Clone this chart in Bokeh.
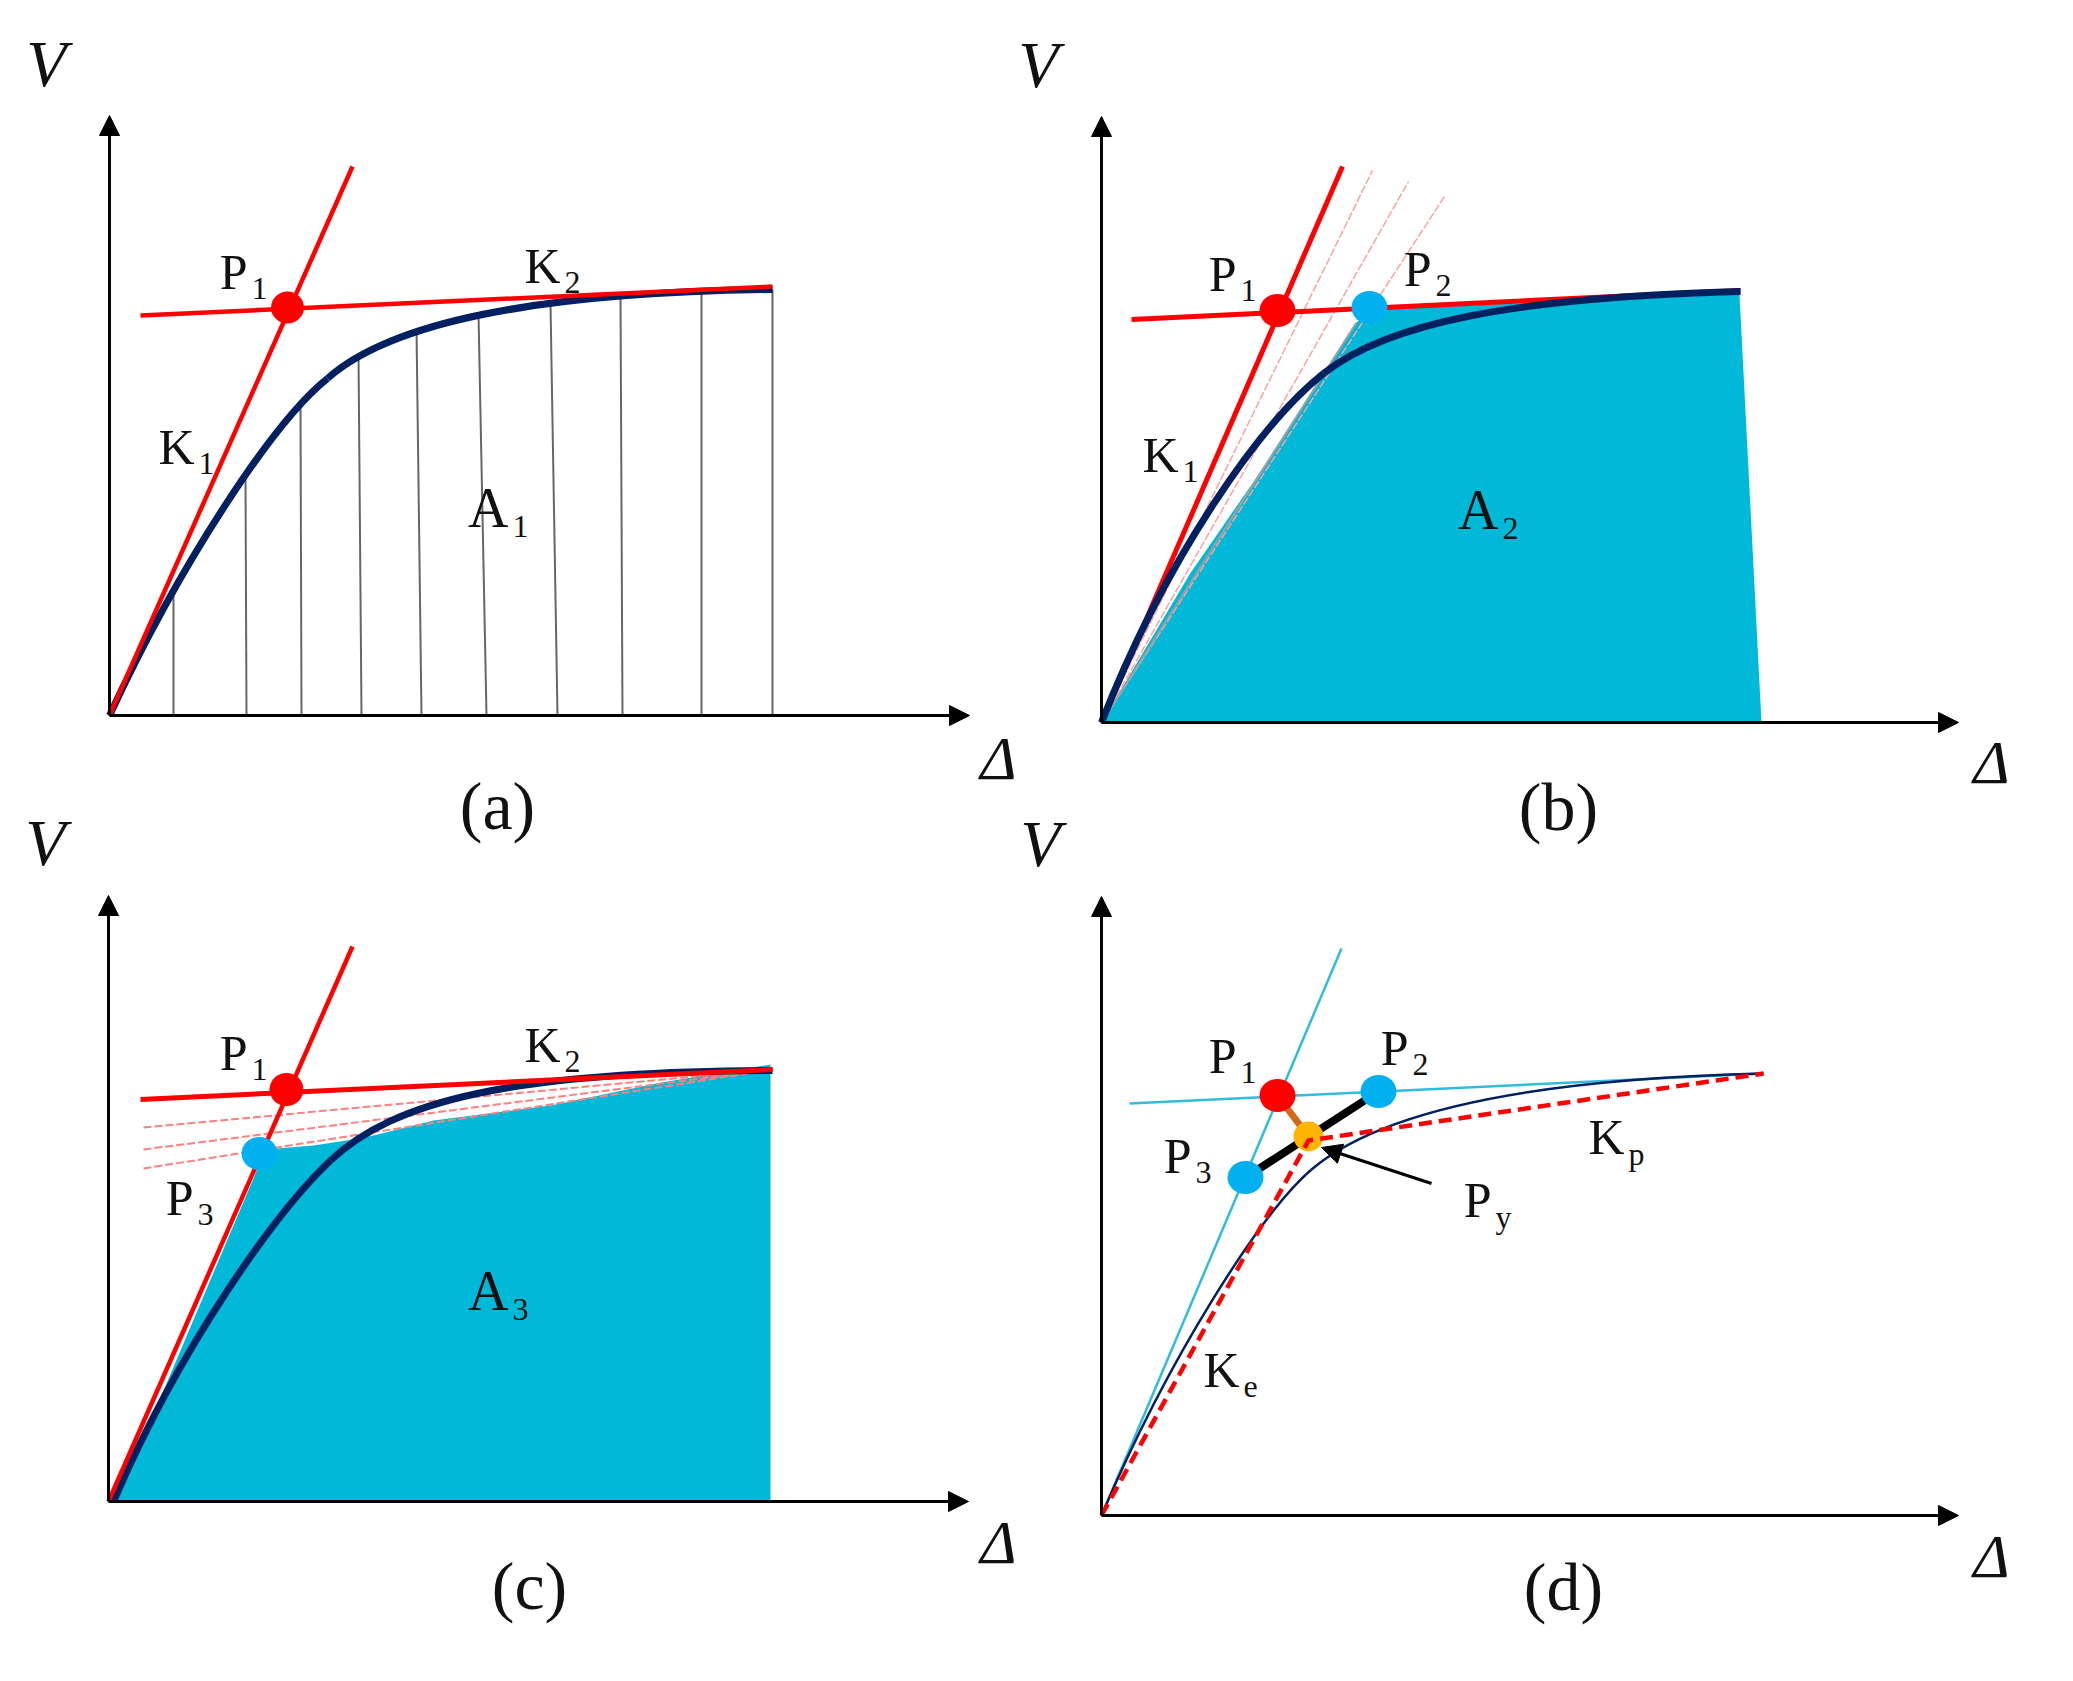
from bokeh.plotting import figure
from bokeh.models import Range1d, LinearAxis, Arrow, NormalHead
from bokeh.core.properties import value
from bokeh.embed import file_html
from bokeh.resources import INLINE

# where each panel's origin sits on the page
origins = {"a": (109, 715), "b": (1101, 722), "c": (108, 1501), "d": (1101, 1515)}
x_axis_len = {"a": 860, "b": 857, "c": 860, "d": 857}
y_axis_len = {"a": 600, "b": 606, "c": 606, "d": 619}

# capacity curves as two bezier pieces: start, ctrl, ctrl, joint, ctrl, ctrl, end (delta, V)
curve_a_x = [0, 72, 165, 218, 280, 420, 663]
curve_a_v = [0, 155, 295, 337, 392, 423, 426]
curve_b_x = [0, 66, 160, 222, 285, 410, 639]
curve_b_v = [0, 168, 300, 349, 399, 425, 431]
curve_c_x = [5, 73, 168, 222, 285, 400, 664]
curve_c_v = [0, 158, 290, 341, 400, 430, 431]
curve_d_x = [0, 68, 160, 210, 272, 410, 662]
curve_d_v = [0, 160, 303, 346, 399, 436, 442]

# hatch in (a)
hatch_top_x = [64, 136, 191, 249, 307, 369, 441, 511, 592, 663]
hatch_top_v = [120, 238, 310, 362, 387, 402, 412, 418, 422, 426]
hatch_bottom_x = [64, 137, 192, 252, 312, 377, 448, 513, 592, 663]

# yield lines
steep_a = ([0, 243], [0, 549])
flat_a = ([31, 663], [400, 429])
steep_b = ([0, 241], [0, 556])
flat_b = ([30, 639], [403, 432])
steep_c = ([0, 244], [0, 555])
flat_c = ([32, 664], [402, 432])
steep_d = ([0, 240], [0, 567])
flat_d = ([28, 662], [412, 442])

# shaded areas
area_b_x = [0, 88, 155, 222, 255, 275, 463, 638, 660]
area_b_v = [0, 148, 245, 348, 400, 414, 421, 428, 0]
area_c_x = [8, 150, 168, 205, 238, 265, 325, 442, 553, 662, 662]
area_c_v = [0, 335, 353, 356, 361, 366, 381, 396, 419, 437, 0]

# thin trial lines
trial_b_x = [271, 307, 343]
trial_b_v = [552, 541, 526]
trial_c_v = [374, 352, 333]

# points
p1 = {"a": (178, 408), "b": (176, 412), "c": (178, 412), "d": (176, 420)}
p2_b = (268, 415)
p3_c = (151, 348)
p2_d = (277, 424)
p3_d = (144, 338)
py_d = (207, 379)
py_dash = (207, 375)

FONT = value("Liberation Serif")
RED = "#FF0000"
NAVY = "#002060"
CYAN = "#00B9D9"
DOT = "#00B0F0"
THIN = "#33BBDD"

W, H = 2057, 1665
p = figure(width=W, height=H, x_range=Range1d(0, W), y_range=Range1d(0, H),
           x_axis_type=None, y_axis_type=None, toolbar_location=None,
           output_backend="svg", min_border=0, outline_line_color=None)
p.grid.visible = False

for name, (ox, oy) in origins.items():
    p.extra_x_ranges[name] = Range1d(-ox, W - ox)
    p.extra_y_ranges[name] = Range1d(oy - H, oy)
    xa = LinearAxis(x_range_name=name, y_range_name=name, fixed_location=0,
                    bounds=(0, x_axis_len[name] - 10), ticker=[], major_tick_line_color=None,
                    minor_tick_line_color=None, major_label_text_color=None,
                    axis_line_color="black", axis_line_width=3)
    ya = LinearAxis(x_range_name=name, y_range_name=name, fixed_location=0,
                    bounds=(0, y_axis_len[name] - 10), ticker=[], major_tick_line_color=None,
                    minor_tick_line_color=None, major_label_text_color=None,
                    axis_line_color="black", axis_line_width=3)
    p.add_layout(xa, "below")
    p.add_layout(ya, "left")
    for x1, y1 in [(x_axis_len[name], 0), (0, y_axis_len[name])]:
        p.add_layout(Arrow(end=NormalHead(size=20, fill_color="black", line_color="black"),
                           x_start=x1 * 0.9, y_start=y1 * 0.9, x_end=x1, y_end=y1,
                           line_color="black", line_width=3,
                           x_range_name=name, y_range_name=name))


def line(name, xs, ys, color, width, **kw):
    p.line(xs, ys, line_color=color, line_width=width, line_join="round",
           x_range_name=name, y_range_name=name, **kw)


def curve(name, xs, vs, width):
    p.bezier(x0=[xs[0], xs[3]], y0=[vs[0], vs[3]], x1=[xs[3], xs[6]], y1=[vs[3], vs[6]],
             cx0=[xs[1], xs[4]], cy0=[vs[1], vs[4]], cx1=[xs[2], xs[5]], cy1=[vs[2], vs[5]],
             line_color=NAVY, line_width=width, x_range_name=name, y_range_name=name)


def dot(name, pt, color, w=36, h=33):
    p.ellipse([pt[0]], [pt[1]], width=w, height=h, fill_color=color, line_color=None,
              x_range_name=name, y_range_name=name)


def txt(name, x, y, s, size, align="center", style="normal", dx=0, dy=0):
    # the baseline lands about a third of the size too low, so lift it
    p.text([x], [y], text=[s], text_font=FONT, text_font_size=str(size) + "px", text_align=align,
           text_baseline="alphabetic", text_font_style=style, text_color="#111111",
           x_offset=dx, y_offset=dy - round(size * 0.32), x_range_name=name, y_range_name=name)


def label(name, x, y, main, sub, size=50):
    txt(name, x, y, main, size, align="right")
    txt(name, x, y, sub, 32, align="left", dx=4, dy=11)


# (a)
for x0, x1, v in zip(hatch_bottom_x, hatch_top_x, hatch_top_v):
    line("a", [x0, x1], [0, v], "#666666", 2)
curve("a", curve_a_x, curve_a_v, 7)
line("a", *steep_a, RED, 4.5)
line("a", *flat_a, RED, 4.5)
dot("a", p1["a"], RED, 33, 32)
label("a", 138, 428, "P", "1")
label("a", 451, 434, "K", "2")
label("a", 85, 253, "K", "1")
label("a", 399, 190, "A", "1", 56)
txt("a", -63, 631, "V", 66, style="italic")
txt("a", 889, -62, "\u0394", 62, style="italic")
txt("a", 388, -112, "(a)", 68)

# (b)
p.patch(area_b_x, area_b_v, fill_color=CYAN, line_color=None, x_range_name="b", y_range_name="b")
for x1, v in zip(trial_b_x, trial_b_v):
    line("b", [0, x1], [0, v], "#FFA0A0", 1.5, line_dash="8 2")
line("b", [0, area_b_x[4]], [0, area_b_v[4]], "#A0A0A0", 2)
line("b", *steep_b, RED, 5)
line("b", *flat_b, RED, 5)
curve("b", curve_b_x, curve_b_v, 7)
dot("b", p1["b"], RED)
dot("b", p2_b, DOT)
label("b", 135, 433, "P", "1")
label("b", 330, 438, "P", "2")
label("b", 77, 252, "K", "1")
label("b", 397, 195, "A", "2", 56)
txt("b", -63, 637, "V", 66, style="italic")
txt("b", 890, -59, "\u0394", 62, style="italic")
txt("b", 457, -106, "(b)", 68)

# (c)
p.patch(area_c_x, area_c_v, fill_color=CYAN, line_color=None, x_range_name="c", y_range_name="c")
for v in trial_c_v:
    line("c", [35, flat_c[0][1]], [v, flat_c[1][1]], "#FF8080", 2, line_dash="8 3")
curve("c", curve_c_x, curve_c_v, 7)
line("c", *steep_c, RED, 4.5)
line("c", *flat_c, RED, 5)
dot("c", p1["c"], RED, 34, 33)
dot("c", p3_c, DOT)
label("c", 139, 433, "P", "1")
label("c", 452, 441, "K", "2")
label("c", 85, 288, "P", "3")
label("c", 400, 193, "A", "3", 56)
txt("c", -63, 638, "V", 66, style="italic")
txt("c", 890, -60, "\u0394", 62, style="italic")
txt("c", 421, -106, "(c)", 68)

# (d)
line("d", *steep_d, THIN, 2.5)
line("d", *flat_d, THIN, 2.5)
curve("d", curve_d_x, curve_d_v, 2.5)
line("d", [p3_d[0], p2_d[0]], [p3_d[1], p2_d[1]], "black", 8)
line("d", [p1["d"][0], py_d[0]], [p1["d"][1], py_d[1]], "#D06A1A", 7)
dot("d", p1["d"], RED)
dot("d", p2_d, DOT)
dot("d", p3_d, DOT)
dot("d", py_d, "#FFB400", 30, 30)
line("d", [0, py_dash[0], flat_d[0][1]], [0, py_dash[1], flat_d[1][1]], RED, 4.5, line_dash="13 7")
p.add_layout(Arrow(end=NormalHead(size=20, fill_color="black", line_color="black"),
                   x_start=330, y_start=332, x_end=220, y_end=368, line_color="black",
                   line_width=3, x_range_name="d", y_range_name="d"))
label("d", 135, 444, "P", "1")
label("d", 307, 452, "P", "2")
label("d", 90, 344, "P", "3")
label("d", 390, 300, "P", "y")
label("d", 523, 363, "K", "p")
label("d", 138, 130, "K", "e")
txt("d", -61, 651, "V", 66, style="italic")
txt("d", 890, -60, "\u0394", 62, style="italic")
txt("d", 462, -93, "(d)", 68)

open("out.html", "w").write(file_html(p, INLINE))
